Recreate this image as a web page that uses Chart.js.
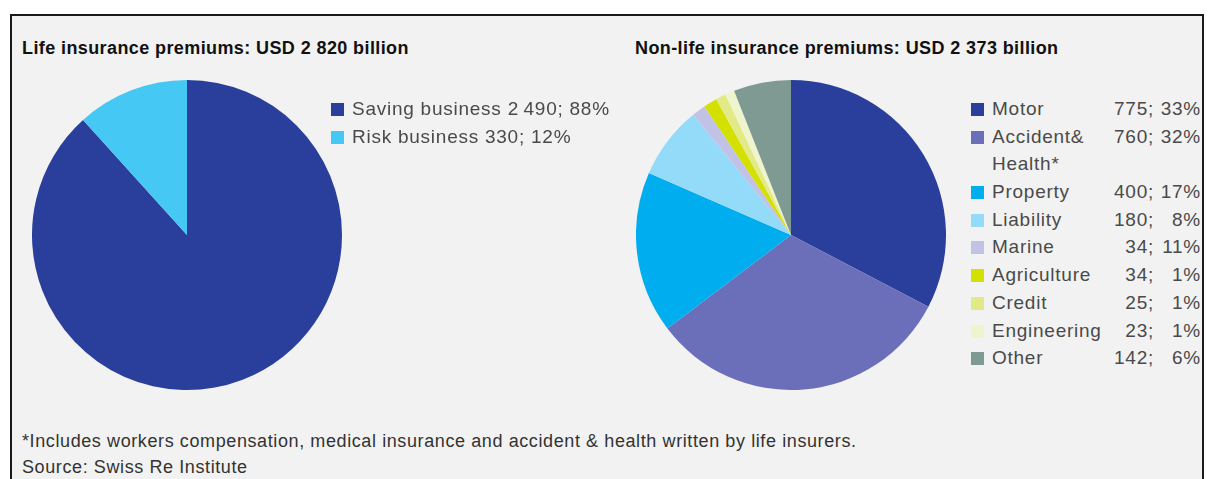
<!DOCTYPE html>
<html>
<head>
<meta charset="utf-8">
<script src="https://cdn.jsdelivr.net/npm/chart.js@4.4.1/dist/chart.umd.min.js"></script>
<style>
  body { margin: 0; background: #fff; font-family: "Liberation Sans", Arial, sans-serif; }
  #frame {
    position: absolute; left: 10px; top: 14px; width: 1190px; height: 520px;
    background: #f2f2f2; border: 2px solid #1a1a1a;
  }
  .title { position: absolute; top: 22px; font-weight: bold; font-size: 18px; letter-spacing: 0.4px; color: #111; white-space: nowrap; }
  .pie { position: absolute; }
  .legend { position: absolute; font-size: 19px; letter-spacing: 0.75px; color: #4a4a4a; }
  .legend .row { position: relative; height: 27.7px; line-height: 27.7px; white-space: nowrap; }
  .legend .box { position: absolute; left: 0; top: 8px; width: 13px; height: 13px; }
  .legend .lab { position: absolute; left: 21px; }
  .legend .num { position: absolute; text-align: right; }
  .note { position: absolute; left: 10px; font-size: 18px; letter-spacing: 0.6px; color: #333; white-space: nowrap; }
</style>
</head>
<body>
<div id="frame">
  <div class="title" style="left:10px">Life insurance premiums: USD 2 820 billion</div>
  <div class="title" style="left:623px">Non-life insurance premiums: USD 2 373 billion</div>
  <canvas id="life" class="pie" width="310" height="310" style="left:20px;top:64px"></canvas>
  <canvas id="nonlife" class="pie" width="310" height="310" style="left:624px;top:64px"></canvas>
  <div id="lifeLegend" class="legend" style="left:319px;top:79px"></div>
  <div id="nonlifeLegend" class="legend" style="left:959px;top:79px;width:230px"></div>
  <div class="note" style="top:415px">*Includes workers compensation, medical insurance and accident &amp; health written by life insurers.</div>
  <div class="note" style="top:441px">Source: Swiss Re Institute</div>
</div>
<script>
// life premiums, USD bn
const lifeLabels = ['Saving business', 'Risk business'];
const lifeValues = [2490, 330];
const lifeShares = ['88%', '12%'];
const lifeColors = ['#2a3f9b', '#45c8f4'];

// non-life premiums, USD bn
const nonLifeLabels = ['Motor', 'Accident & Health*', 'Property', 'Liability', 'Marine', 'Agriculture', 'Credit', 'Engineering', 'Other'];
const nonLifeValues = [775, 760, 400, 180, 34, 34, 25, 23, 142];
const nonLifeShares = ['33%', '32%', '17%', '8%', '11%', '1%', '1%', '1%', '6%'];
const nonLifeColors = ['#2a3f9b', '#6b6fb9', '#00aeef', '#93dbf8', '#c2c2e6', '#d3e000', '#e2ea88', '#eef5cc', '#7f9a93'];

function makePie(id, labels, values, colors) {
  return new Chart(document.getElementById(id), {
    type: 'pie',
    data: {
      labels: labels,
      datasets: [{ data: values, backgroundColor: colors, borderWidth: 0 }]
    },
    options: {
      responsive: false,
      animation: false,
      layout: { padding: 0 },
      plugins: { legend: { display: false }, tooltip: { enabled: false } }
    }
  });
}

makePie('life', lifeLabels, lifeValues, lifeColors);
makePie('nonlife', nonLifeLabels, nonLifeValues, nonLifeColors);

// left legend: one line per item
const lifeLegend = document.getElementById('lifeLegend');
lifeLabels.forEach((lab, i) => {
  const v = lifeValues[i].toLocaleString('en-US').replace(',', '\u2009');
  lifeLegend.innerHTML += `<div class="row"><span class="box" style="background:${lifeColors[i]}"></span>` +
    `<span class="lab">${lab} ${v}; ${lifeShares[i]}</span></div>`;
});

// right legend: label, value and share in columns
const nlLegend = document.getElementById('nonlifeLegend');
nonLifeLabels.forEach((lab, i) => {
  const twoLine = lab.startsWith('Accident');
  const text = twoLine ? 'Accident&amp;<br>Health*' : lab;
  const h = twoLine ? 55.4 : 27.7;
  nlLegend.innerHTML += `<div class="row" style="height:${h}px">` +
    `<span class="box" style="background:${nonLifeColors[i]}"></span>` +
    `<span class="lab" style="line-height:27.7px">${text}</span>` +
    `<span class="num" style="right:47px">${nonLifeValues[i]};</span>` +
    `<span class="num" style="right:0">${nonLifeShares[i]}</span></div>`;
});
</script>
</body>
</html>
